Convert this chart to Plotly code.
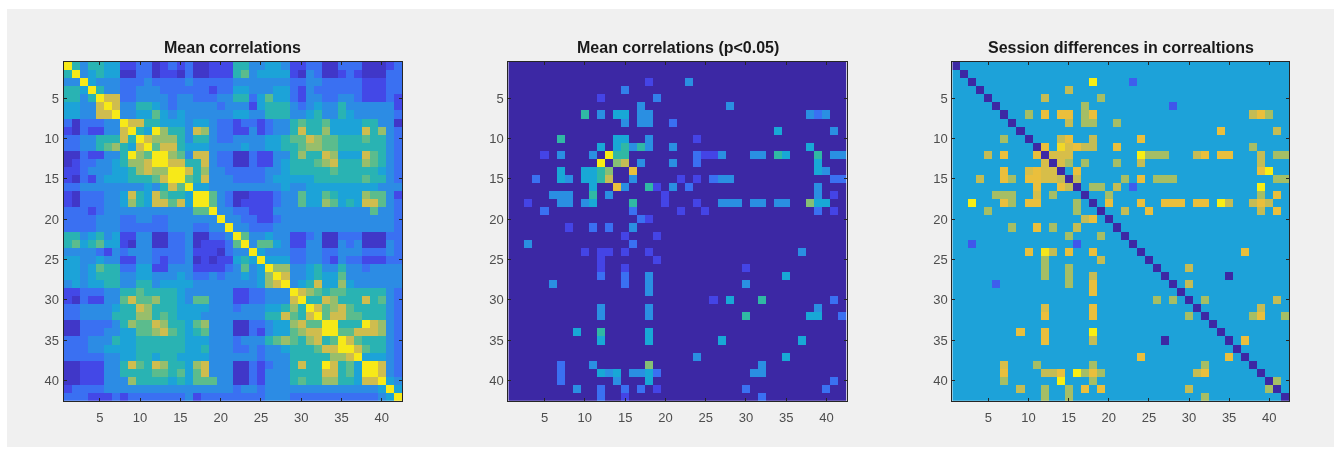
import plotly.graph_objects as go

W, H = 1338, 453

TITLES = ["Mean correlations", "Mean correlations (p<0.05)", "Session differences in correaltions"]
TICKS = [5, 10, 15, 20, 25, 30, 35, 40]
N = 42

# colour level for each cell of the left matrix (0 low .. 9 high)
MEAN_ROWS = [
    "9535544 1122012 1200111 5533443 1122002 2200012",
    "5934544 0022011 0200111 5634444 1032001 2100022",
    "3394333 2223222 2322222 3333333 2233222 2211122",
    "5549533 2233322 2222122 4433344 2132222 2211122",
    "5535988 2233332 3322233 5524644 2133223 3211121",
    "4433898 3355432 3333323 3314555 3234335 3333331",
    "4433889 3344643 4333333 4433555 3345335 4333332",
    "2022233 9885544 4344322 1221233 5655644 4455330",
    "1021133 8954975 5387322 1131233 5855744 4485732",
    "2233555 8598777 5355322 3333445 6687665 5565532",
    "2233567 5489688 5444333 3433445 5677665 5555532",
    "0021133 5976997 6388322 0021133 5755874 4486532",
    "0122334 5778998 8558322 0021134 5556785 5576532",
    "1123334 4578779 9857332 2222334 5555565 5555432",
    "1021344 4555689 9658333 2222344 4445555 5565532",
    "2233333 3334358 6944333 3333334 3344444 4444333",
    "1022233 4854865 5499632 0011123 3644654 4476631",
    "1022233 4754886 8499632 0111123 3644764 5488632",
    "2221233 3333333 3366933 2211133 3333333 3336332",
    "2222333 2233223 3333393 3221123 3333333 3333332",
    "2222333 2222223 3322339 3322233 3333333 3333332",
    "5534534 1133002 2300223 9633433 1123002 2200022",
    "5645644 1033002 2301112 6936643 1133003 2300032",
    "3333213 2333222 2311102 3394333 2233223 3322232",
    "4433433 1133212 2301011 4549444 2233213 2211122",
    "4434655 2244113 3311112 3634977 3345335 3323333",
    "4434555 3344333 4322323 3434798 3345446 3333333",
    "3434455 3355344 4433333 3334789 3458447 4333333",
    "1122233 5565555 4333333 1122333 9876566 5555532",
    "1021133 6866755 4366333 1122333 8955875 5585632",
    "2233334 5587555 4444333 2333445 7598678 6555532",
    "2233335 5577565 4443333 3333558 6589688 6655532",
    "0022223 5766875 5467333 0022344 7866995 5598732",
    "0022233 4466786 5456333 0021344 6788996 6888732",
    "2223335 4455555 5444333 2333567 6578569 8655532",
    "2223344 4455555 5445333 2232334 5556889 9865532",
    "2222233 4455455 4444333 3332333 5555577 8944432",
    "0011133 5865875 5478333 0021233 5855985 6499832",
    "0011133 5555665 6468333 0021333 5555885 6499832",
    "0011133 3755554 5466633 0021333 5655775 5488943",
    "1222233 3333333 3333333 2332333 3333333 3333494",
    "2221112 1222222 2312222 2222333 2222222 2222349",
]
# where each digit of MEAN_ROWS sits on the shared colour scale
MEAN_DIGIT_LEVELS = [0.55, 1.1, 2.0, 2.9, 3.8, 4.7, 5.5, 6.3, 7.3, 8.9]

# significant cells of the middle matrix: (row, column, level)
P05_CELLS = [
    (3, 18, 1), (3, 23, 3), (4, 15, 2.5), (5, 12, 1), (5, 19, 2.5), (6, 17, 3), (6, 28, 3),
    (7, 10, 5), (7, 12, 3), (7, 14, 4), (7, 15, 4), (7, 17, 3), (7, 18, 3), (7, 38, 3), (7, 39, 2), (7, 40, 3),
    (8, 15, 3), (8, 17, 3), (8, 18, 3), (8, 21, 2), (9, 34, 4), (9, 41, 3),
    (10, 7, 5), (10, 14, 4), (10, 15, 4), (10, 18, 3), (10, 24, 1),
    (11, 12, 4), (11, 14, 4), (11, 15, 5), (11, 16, 3), (11, 17, 5), (11, 18, 3), (11, 21, 3), (11, 38, 4),
    (12, 5, 1), (12, 7, 3), (12, 11, 3), (12, 13, 9), (12, 14, 5), (12, 15, 5), (12, 24, 2), (12, 25, 1),
    (12, 26, 1), (12, 27, 3), (12, 31, 3), (12, 32, 3), (12, 34, 5), (12, 35, 4), (12, 39, 5), (12, 41, 3), (12, 42, 3),
    (13, 12, 9), (13, 14, 6), (13, 15, 7), (13, 17, 3), (13, 21, 3), (13, 24, 2), (13, 39, 4),
    (14, 7, 4), (14, 10, 4), (14, 11, 4), (14, 12, 5), (14, 13, 6), (14, 16, 8), (14, 39, 4), (14, 40, 3),
    (15, 4, 2), (15, 7, 4), (15, 8, 3), (15, 10, 4), (15, 11, 4), (15, 12, 5), (15, 13, 7), (15, 16, 3),
    (15, 22, 1), (15, 24, 1), (15, 26, 2), (15, 27, 3), (15, 28, 3), (15, 41, 2), (15, 42, 2),
    (16, 11, 4), (16, 14, 8), (16, 15, 3), (16, 18, 5), (16, 19, 1), (16, 21, 3), (16, 23, 2), (16, 39, 3),
    (17, 6, 3), (17, 7, 3), (17, 8, 3), (17, 11, 5), (17, 13, 3), (17, 20, 1), (17, 39, 3), (17, 41, 1),
    (18, 3, 1), (18, 7, 3), (18, 8, 3), (18, 10, 3), (18, 11, 4), (18, 16, 5), (18, 20, 1), (18, 24, 1),
    (18, 27, 3), (18, 28, 3), (18, 29, 3), (18, 31, 3), (18, 32, 3), (18, 34, 3), (18, 35, 3),
    (18, 38, 6), (18, 39, 4), (18, 40, 4),
    (19, 5, 2), (19, 16, 2), (19, 22, 1), (19, 25, 1), (19, 39, 2), (19, 41, 1),
    (20, 17, 2), (20, 18, 1), (21, 8, 1), (21, 11, 2), (21, 13, 2), (21, 16, 3), (22, 15, 1), (22, 19, 1),
    (23, 3, 3), (23, 16, 2), (24, 10, 1), (24, 12, 1), (24, 13, 1), (24, 15, 1), (24, 18, 1), (24, 37, 3),
    (25, 12, 1), (25, 19, 1), (26, 12, 1), (26, 15, 1), (26, 30, 1),
    (27, 12, 2), (27, 15, 2), (27, 18, 3), (27, 35, 4), (28, 6, 3), (28, 15, 2), (28, 18, 3), (28, 30, 3), (29, 18, 3),
    (30, 26, 1), (30, 28, 4), (30, 32, 5), (30, 41, 2), (31, 12, 3), (31, 18, 3), (31, 39, 3),
    (32, 12, 3), (32, 18, 3), (32, 30, 5), (32, 38, 4), (32, 39, 4), (32, 42, 2),
    (34, 9, 4), (34, 12, 5), (34, 18, 4), (35, 12, 4), (35, 18, 4), (35, 27, 4), (35, 37, 4),
    (37, 24, 3), (37, 35, 4), (38, 7, 2), (38, 11, 3), (38, 18, 6), (38, 32, 3),
    (39, 7, 2), (39, 12, 4), (39, 13, 3), (39, 14, 4), (39, 16, 3), (39, 17, 3), (39, 18, 4), (39, 19, 2),
    (39, 31, 3), (39, 32, 3), (40, 7, 2), (40, 14, 3), (40, 18, 4), (40, 41, 2),
    (41, 9, 3), (41, 12, 2), (41, 15, 2), (41, 17, 2), (41, 19, 1), (41, 30, 2), (41, 40, 2),
    (42, 12, 2), (42, 15, 1), (42, 32, 2),
]

# the right matrix: background level, diagonal level and the cells that differ
DIFF_BACKGROUND = 3.75
DIFF_DIAGONAL = 0
DIFF_CELLS = [
    (3, 18, 9), (3, 23, 1.6), (4, 15, 7), (5, 12, 7), (5, 19, 6.5), (6, 17, 6.5), (6, 28, 1.4),
    (7, 10, 6.5), (7, 12, 8), (7, 14, 8), (7, 15, 8), (7, 17, 6.5), (7, 18, 8), (7, 38, 7), (7, 39, 8), (7, 40, 6.5),
    (8, 15, 7), (8, 17, 6.5), (8, 18, 6.5), (8, 21, 6.5), (9, 34, 8), (9, 41, 7),
    (10, 7, 6.5), (10, 14, 7), (10, 15, 8), (10, 18, 7), (10, 24, 8),
    (11, 12, 8), (11, 14, 8.5), (11, 15, 7.5), (11, 16, 8), (11, 17, 7), (11, 18, 7), (11, 21, 8), (11, 38, 6.5),
    (12, 5, 7), (12, 7, 8), (12, 11, 8), (12, 13, 7.5), (12, 14, 7.5), (12, 15, 7.5), (12, 24, 9), (12, 25, 6.5),
    (12, 26, 6.5), (12, 27, 6.5), (12, 31, 7), (12, 32, 8), (12, 34, 8), (12, 35, 8), (12, 39, 7), (12, 41, 6.5), (12, 42, 6.5),
    (13, 12, 7.5), (13, 14, 7.5), (13, 15, 6.5), (13, 17, 6.5), (13, 21, 6.5), (13, 24, 7), (13, 39, 7),
    (14, 7, 8), (14, 10, 7.5), (14, 11, 8), (14, 12, 7.5), (14, 13, 7.5), (14, 16, 8), (14, 39, 8), (14, 40, 9),
    (15, 4, 7), (15, 7, 8), (15, 8, 6.5), (15, 10, 8), (15, 11, 8), (15, 12, 7.5), (15, 13, 7.5), (15, 14, 7), (15, 16, 7),
    (15, 22, 6.5), (15, 24, 8), (15, 26, 6.5), (15, 27, 6.5), (15, 28, 6.5), (15, 41, 6.5), (15, 42, 6.5),
    (16, 11, 8), (16, 14, 8), (16, 15, 7), (16, 18, 6.5), (16, 19, 6.5), (16, 21, 7), (16, 23, 1.6), (16, 39, 9),
    (17, 6, 6.5), (17, 7, 6.5), (17, 8, 6.5), (17, 11, 7.5), (17, 13, 6.5), (17, 20, 6.5), (17, 39, 6.5), (17, 41, 8),
    (18, 3, 9), (18, 7, 8), (18, 8, 6.5), (18, 10, 8), (18, 11, 8), (18, 16, 6.5), (18, 20, 8), (18, 24, 8),
    (18, 27, 8), (18, 28, 8), (18, 29, 8), (18, 31, 8), (18, 32, 8), (18, 34, 9), (18, 35, 7),
    (18, 38, 7), (18, 39, 8), (18, 40, 7),
    (19, 5, 6.5), (19, 16, 6.5), (19, 22, 7), (19, 25, 8), (19, 39, 7), (19, 41, 8),
    (20, 17, 7), (20, 18, 8), (21, 8, 6.5), (21, 11, 8), (21, 13, 6.5), (21, 16, 7), (22, 15, 6.5), (22, 19, 6.5),
    (23, 3, 1.4), (23, 16, 1.4), (24, 10, 8), (24, 12, 8.8), (24, 13, 7), (24, 15, 8), (24, 18, 8), (24, 37, 8),
    (25, 12, 6.5), (25, 19, 7), (26, 12, 6.5), (26, 15, 6.5), (26, 30, 7),
    (27, 12, 6.5), (27, 15, 6.5), (27, 18, 7), (27, 35, 0), (28, 6, 1.6), (28, 15, 6.5), (28, 18, 8), (28, 30, 7), (29, 18, 8),
    (30, 26, 6.5), (30, 28, 6.5), (30, 32, 6.5), (30, 41, 7), (31, 12, 7.5), (31, 18, 8), (31, 39, 7),
    (32, 12, 8), (32, 18, 8), (32, 30, 6.5), (32, 38, 6.5), (32, 39, 8), (32, 42, 6.5),
    (34, 9, 8), (34, 12, 8), (34, 18, 9), (35, 12, 8), (35, 18, 7), (35, 27, 0), (35, 37, 8),
    (37, 24, 8), (37, 35, 8), (38, 7, 7.5), (38, 11, 6.5), (38, 18, 6.5), (38, 32, 6.5),
    (39, 7, 8), (39, 12, 7), (39, 13, 7), (39, 14, 8), (39, 16, 9), (39, 17, 6.5), (39, 18, 8), (39, 19, 6.5),
    (39, 31, 7), (39, 32, 8), (40, 7, 6.5), (40, 14, 9), (40, 18, 6.5), (40, 41, 6.5),
    (41, 9, 7), (41, 12, 6.5), (41, 15, 6.5), (41, 17, 8), (41, 19, 8), (41, 30, 7), (41, 40, 6.5),
    (42, 12, 6.5), (42, 15, 6.5), (42, 32, 6.5),
]

LEVEL_COLOURS = ["#3c28a4", "#4444e6", "#3a70f2", "#2a8fe2", "#18a8d6", "#30b8a4",
                 "#85bf75", "#c4bc55", "#eabf3c", "#f8ee14"]


def dense(cells, fill):
    grid = [[fill] * N for _ in range(N)]
    for r, c, v in cells:
        grid[r - 1][c - 1] = v
    return grid


z_mean = [[MEAN_DIGIT_LEVELS[int(ch)] for ch in row.replace(" ", "")] for row in MEAN_ROWS]
assert all(len(r) == N for r in z_mean) and len(z_mean) == N
z_p05 = dense(P05_CELLS, 0)
z_diff = dense(DIFF_CELLS, DIFF_BACKGROUND)
for i in range(N):
    z_diff[i][i] = DIFF_DIAGONAL

# panel rectangles in pixels: x0, x1 (y is shared)
PANELS = [(63.5, 402.0), (508.3, 846.7), (952.3, 1289.3)]
Y0, Y1 = 62.0, 400.7
axis = list(range(1, N + 1))

fig = go.Figure()
shapes = [dict(type="rect", xref="paper", yref="paper", layer="below",
               x0=7 / W, x1=1334 / W, y0=1 - 447 / H, y1=1 - 9 / H,
               fillcolor="#f0f0f0", line_width=0)]
annotations = []
for i, (z, (x0, x1), title) in enumerate(zip([z_mean, z_p05, z_diff], PANELS, TITLES), start=1):
    suffix = "" if i == 1 else str(i)
    fig.add_trace(go.Heatmap(z=z, x=axis, y=axis, coloraxis="coloraxis",
                             xaxis="x" + suffix, yaxis="y" + suffix, xgap=0, ygap=0))
    common = dict(tickmode="array", tickvals=TICKS, ticktext=[str(t) for t in TICKS],
                  ticks="inside", ticklen=3, tickwidth=1, tickcolor="#262626",
                  showline=True, linecolor="#262626", linewidth=1, mirror="ticks",
                  showgrid=False, zeroline=False,
                  tickfont=dict(family="Liberation Sans", size=13, color="#4d4d4d"))
    fig.layout["xaxis" + suffix] = dict(domain=[x0 / W, x1 / W], range=[0.5, 42.5],
                                        anchor="y" + suffix, ticklabelstandoff=5, **common)
    fig.layout["yaxis" + suffix] = dict(domain=[1 - Y1 / H, 1 - Y0 / H], range=[42.5, 0.5],
                                        anchor="x" + suffix, ticklabelstandoff=1, **common)
    annotations.append(dict(text="<b>" + title.replace("<", "&lt;") + "</b>", xref="paper", yref="paper",
                            x=(x0 + x1) / 2 / W, y=1 - 48 / H, xanchor="center", yanchor="middle",
                            showarrow=False,
                            font=dict(family="Liberation Sans", size=16, color="#1a1a1a")))

fig.update_layout(width=W, height=H, margin=dict(l=0, r=0, t=0, b=0), autosize=False,
                  paper_bgcolor="white", plot_bgcolor="white", shapes=shapes, annotations=annotations,
                  coloraxis=dict(cmin=0, cmax=9, showscale=False,
                                 colorscale=[[k / 9, c] for k, c in enumerate(LEVEL_COLOURS)]))

fig.write_html("out.html", config={"displayModeBar": False},
               post_script="document.body.style.margin='0';document.body.style.overflow='hidden';"
                           "document.querySelector('.plotly-graph-div').style.filter='blur(0.6px)';")
